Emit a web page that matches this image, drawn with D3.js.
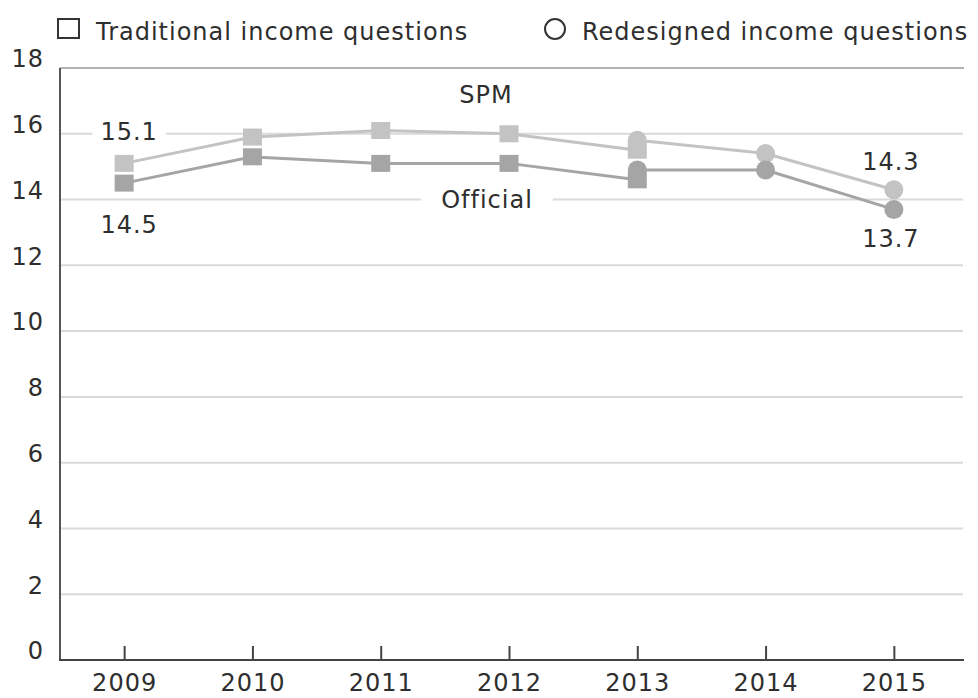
<!DOCTYPE html>
<html>
<head>
<meta charset="utf-8">
<script src="https://cdn.jsdelivr.net/npm/d3@7"></script>
<style>
  html, body { margin: 0; padding: 0; background: #fff; }
  svg { display: block; font-family: "DejaVu Sans", sans-serif; }
  text { fill: #2e2e2e; font-size: 24px; letter-spacing: 1px; }
</style>
</head>
<body>
<svg id="chart" width="978" height="698"></svg>
<script>
// Poverty rates (%) by year, SPM vs. official measure
const years = [2009, 2010, 2011, 2012, 2013, 2014, 2015];
const traditionalYears = [2009, 2010, 2011, 2012, 2013];
const redesignedYears = [2013, 2014, 2015];

const spmTraditional = [15.1, 15.9, 16.1, 16.0, 15.5];
const officialTraditional = [14.5, 15.3, 15.1, 15.1, 14.6];
const spmRedesigned = [15.8, 15.4, 14.3];
const officialRedesigned = [14.9, 14.9, 13.7];

const yTicks = [0, 2, 4, 6, 8, 10, 12, 14, 16, 18];
const legendLabels = ["Traditional income questions", "Redesigned income questions"];

// Value labels: [text, year, value, series]
const valueLabels = [
  ["15.1", 2009, 15.1, "spm"],
  ["14.5", 2009, 14.5, "official"],
  ["14.3", 2015, 14.3, "spm"],
  ["13.7", 2015, 13.7, "official"]
];
const seriesNames = ["SPM", "Official"];

const svg = d3.select("#chart");
const plotLeft = 60, plotRight = 964, plotTop = 68, plotBottom = 660;

const x = d3.scalePoint().domain(years).range([plotLeft, 958]).padding(0.5);
const y = d3.scaleLinear().domain([0, 18]).range([plotBottom, plotTop]);

const colors = { spm: "#c3c3c3", official: "#a5a5a5" };

// Horizontal gridlines
svg.append("g")
  .selectAll("line")
  .data(yTicks.filter(d => d > 0 && d < 18))
  .join("line")
  .attr("x1", plotLeft + 1).attr("x2", plotRight - 1)
  .attr("y1", d => y(d)).attr("y2", d => y(d))
  .attr("stroke", "#dadada").attr("stroke-width", 2);

// Top frame line
svg.append("line")
  .attr("x1", plotLeft).attr("x2", plotRight)
  .attr("y1", y(18)).attr("y2", y(18))
  .attr("stroke", "#9a9a9a").attr("stroke-width", 1.5);

// Y axis labels
const yAxis = svg.append("g")
  .attr("transform", `translate(${plotLeft},0)`)
  .call(d3.axisLeft(y).tickValues(yTicks).tickSize(0).tickPadding(16));
yAxis.select(".domain").remove();
yAxis.selectAll("text")
  .attr("font-size", 24).attr("font-family", "DejaVu Sans")
  .attr("fill", "#2e2e2e").attr("dy", "-0.05em");

// Y axis line
svg.append("line")
  .attr("x1", plotLeft).attr("x2", plotLeft)
  .attr("y1", y(18)).attr("y2", plotBottom + 1)
  .attr("stroke", "#555").attr("stroke-width", 2);

// X axis with ticks pointing into the plot
const xAxis = svg.append("g")
  .attr("transform", `translate(0,${plotBottom})`)
  .call(d3.axisBottom(x).tickSizeInner(-14).tickSizeOuter(0).tickPadding(23));
xAxis.select(".domain").remove();
xAxis.selectAll(".tick line").attr("stroke", "#444").attr("stroke-width", 2);
xAxis.selectAll("text")
  .attr("font-size", 24).attr("font-family", "DejaVu Sans")
  .attr("fill", "#2e2e2e").attr("dy", "0.35em");

svg.append("line")
  .attr("x1", plotLeft - 1).attr("x2", plotRight)
  .attr("y1", plotBottom).attr("y2", plotBottom)
  .attr("stroke", "#444").attr("stroke-width", 2);

// Series label texts with white backing that breaks the gridlines
function backedLabel(txt, cx, cy, padX, padY) {
  const g = svg.append("g");
  const rect = g.append("rect").attr("fill", "#fff");
  const t = g.append("text")
    .attr("x", cx).attr("y", cy)
    .attr("text-anchor", "middle").attr("dy", "0.35em")
    .text(txt);
  const b = t.node().getBBox();
  rect.attr("x", b.x - padX).attr("y", b.y - padY)
    .attr("width", b.width + 2 * padX).attr("height", b.height + 2 * padY);
  return g;
}

// Lines
const line = d3.line().x(d => x(d[0])).y(d => y(d[1]));
const zip = (ys, vs) => ys.map((yr, i) => [yr, vs[i]]);

const seriesData = [
  { key: "spm", pts: zip(traditionalYears, spmTraditional), shape: "square" },
  { key: "spm", pts: zip(redesignedYears, spmRedesigned), shape: "circle" },
  { key: "official", pts: zip(traditionalYears, officialTraditional), shape: "square" },
  { key: "official", pts: zip(redesignedYears, officialRedesigned), shape: "circle" }
];

seriesData.forEach(s => {
  svg.append("path")
    .datum(s.pts)
    .attr("d", line)
    .attr("fill", "none")
    .attr("stroke", colors[s.key])
    .attr("stroke-width", 3);
});

seriesData.forEach(s => {
  const g = svg.append("g").attr("fill", colors[s.key]);
  if (s.shape === "square") {
    g.selectAll("rect").data(s.pts).join("rect")
      .attr("x", d => x(d[0]) - 9.5).attr("y", d => y(d[1]) - 8.5)
      .attr("width", 19).attr("height", 17);
  } else {
    g.selectAll("circle").data(s.pts).join("circle")
      .attr("cx", d => x(d[0])).attr("cy", d => y(d[1]))
      .attr("r", 9.5);
  }
});

// Value labels
valueLabels.forEach(([txt, yr, v, key]) => {
  const above = key === "spm";
  const cy = above ? y(v) - (yr === 2009 ? 32 : 28) : y(v) + (yr === 2009 ? 41 : 29);
  if (yr === 2009 && above) {
    backedLabel(txt, x(yr) + 5, cy, 8, 0);
  } else {
    svg.append("text")
      .attr("x", x(yr) + (yr === 2009 ? 5 : -3)).attr("y", cy)
      .attr("text-anchor", "middle").attr("dy", "0.35em")
      .text(txt);
  }
});

// Series names
svg.append("text")
  .attr("x", 486).attr("y", y(17.2))
  .attr("text-anchor", "middle").attr("dy", "0.35em")
  .text(seriesNames[0]);
backedLabel(seriesNames[1], 487, y(14), 20, 0);

// Legend
svg.append("rect")
  .attr("x", 58).attr("y", 19).attr("width", 21).attr("height", 19)
  .attr("fill", "#fff").attr("stroke", "#333").attr("stroke-width", 2);
svg.append("text").attr("x", 96).attr("y", 40).text(legendLabels[0]);

svg.append("circle")
  .attr("cx", 555).attr("cy", 29).attr("r", 10)
  .attr("fill", "#fff").attr("stroke", "#333").attr("stroke-width", 2);
svg.append("text").attr("x", 582).attr("y", 40).text(legendLabels[1]);
</script>
</body>
</html>
